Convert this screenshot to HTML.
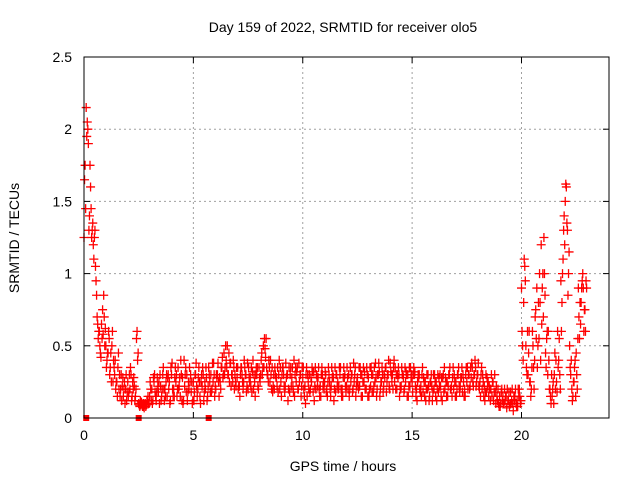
<!DOCTYPE html>
<html><head><meta charset="utf-8"><style>
body{margin:0;background:#fff}
svg text{font-family:"Liberation Sans",sans-serif;font-size:14px;fill:#000}
</style></head><body>
<svg id="chart" width="640" height="480" viewBox="0 0 640 480">
<rect width="640" height="480" fill="#fff"/>
<g id="grid"></g>
<g id="axes"></g>
<g id="marks"></g>
<rect x="84" y="57" width="525" height="361" fill="none" stroke="#000" stroke-width="1"/>
<text x="343" y="32" text-anchor="middle">Day 159 of 2022, SRMTID for receiver olo5</text>
<text x="343" y="471" text-anchor="middle">GPS time / hours</text>
<text x="19" y="238" text-anchor="middle" transform="rotate(-90 19 238)">SRMTID / TECUs</text>
</svg>
<script>
const xTicks=[0,5,10,15,20];
const yTicks=[0,0.5,1,1.5,2,2.5];
const yTickLabels=["0","0.5","1","1.5","2","2.5"];
const seriesA=[
1.25,2.15,1.9,1.6,1.35,1.3,0.7,0.6,0.65,0.85,
0.5,0.45,0.35,0.6,0.3,0.25,0.2,0.3,0.15,0.2,
0.25,0.2,0.15,0.22,0.55,0.1,0.09,0.08,0.1,0.12,
0.15,0.2,0.25,0.12,0.18,0.22,0.3,0.2,0.15,0.25,
0.3,0.2,0.25,0.35,0.15,0.28,0.22,0.3,0.2,0.18,
0.25,0.3,0.2,0.15,0.22,0.18,0.28,0.35,0.3,0.25,
0.22,0.3,0.28,0.35,0.45,0.4,0.3,0.38,0.25,0.3,
0.28,0.22,0.35,0.25,0.3,0.2,0.28,0.32,0.25,0.3,
0.35,0.4,0.5,0.42,0.3,0.25,0.35,0.2,0.28,0.3,
0.25,0.35,0.22,0.3,0.18,0.28,0.4,0.25,0.2,0.3,
0.28,0.22,0.15,0.3,0.25,0.32,0.2,0.28,0.22,0.3,
0.25,0.2,0.3,0.22,0.28,0.18,0.25,0.3,0.2,0.28,
0.22,0.3,0.25,0.2,0.35,0.28,0.22,0.3,0.25,0.2,
0.28,0.22,0.3,0.25,0.2,0.32,0.25,0.22,0.35,0.3,
0.38,0.3,0.25,0.2,0.3,0.22,0.28,0.25,0.3,0.22,
0.25,0.3,0.2,0.28,0.22,0.18,0.25,0.2,0.15,0.22,
0.2,0.25,0.18,0.22,0.28,0.2,0.25,0.3,0.22,0.2,
0.25,0.3,0.22,0.18,0.2,0.25,0.3,0.28,0.22,0.35,
0.3,0.25,0.2,0.22,0.18,0.15,0.2,0.25,0.18,0.12,
0.15,0.2,0.1,0.15,0.12,0.18,0.1,0.15,0.12,0.2,
0.9,0.8,0.5,0.3,0.25,0.6,0.4,0.9,0.55,1.2,
0.7,0.45,0.3,0.2,0.15,0.3,0.25,0.4,0.95,1.1,
1.5,1.3,0.5,0.2,0.25,0.45,0.9,0.65,1.0,0.75];
const seriesB=[
1.75,2.05,1.4,1.25,1.1,0.95,0.55,0.45,0.75,0.5,
0.4,0.55,0.25,0.4,0.2,0.35,0.15,0.22,0.25,0.12,
0.18,0.3,0.2,0.15,0.4,0.08,0.1,0.07,0.09,0.1,
0.2,0.12,0.18,0.28,0.1,0.15,0.2,0.25,0.3,0.12,
0.2,0.28,0.15,0.22,0.3,0.12,0.35,0.18,0.25,0.1,
0.18,0.22,0.35,0.25,0.3,0.2,0.15,0.25,0.2,0.3,
0.3,0.25,0.2,0.28,0.35,0.5,0.25,0.3,0.35,0.22,
0.2,0.3,0.25,0.35,0.22,0.28,0.35,0.2,0.3,0.22,
0.25,0.3,0.55,0.35,0.4,0.3,0.22,0.3,0.35,0.2,
0.3,0.22,0.28,0.2,0.35,0.22,0.3,0.35,0.25,0.22,
0.2,0.3,0.25,0.2,0.32,0.22,0.28,0.2,0.3,0.25,
0.3,0.25,0.2,0.28,0.2,0.3,0.22,0.2,0.28,0.22,
0.28,0.2,0.3,0.25,0.22,0.2,0.3,0.25,0.2,0.3,
0.2,0.3,0.22,0.28,0.3,0.2,0.3,0.28,0.25,0.22,
0.3,0.35,0.2,0.28,0.22,0.3,0.2,0.3,0.22,0.28,
0.3,0.22,0.25,0.2,0.3,0.25,0.2,0.22,0.25,0.18,
0.25,0.2,0.22,0.28,0.18,0.25,0.22,0.2,0.28,0.25,
0.2,0.22,0.28,0.25,0.3,0.2,0.22,0.35,0.3,0.25,
0.22,0.3,0.25,0.18,0.22,0.2,0.15,0.18,0.22,0.1,
0.1,0.15,0.12,0.2,0.08,0.12,0.15,0.1,0.2,0.1,
0.5,1.05,0.3,0.6,0.2,0.35,0.75,0.5,0.8,0.9,
1.0,0.55,0.4,0.1,0.25,0.2,0.6,0.3,0.8,1.4,
1.6,1.0,0.3,0.15,0.4,0.2,0.55,0.9,0.6,0.95];
const seriesC=[
1.65,1.95,1.3,1.45,1.2,1.05,0.65,0.5,0.55,0.7,
0.35,0.6,0.45,0.25,0.4,0.15,0.3,0.12,0.2,0.3,
0.15,0.35,0.25,0.12,0.6,0.09,0.11,0.1,0.08,0.15,
0.25,0.1,0.3,0.18,0.25,0.12,0.35,0.15,0.28,0.1,
0.38,0.15,0.3,0.2,0.4,0.1,0.3,0.12,0.35,0.25,
0.12,0.38,0.28,0.1,0.35,0.25,0.12,0.3,0.18,0.38,
0.2,0.38,0.25,0.42,0.3,0.35,0.45,0.22,0.4,0.25,
0.35,0.15,0.3,0.4,0.18,0.35,0.22,0.4,0.15,0.35,
0.28,0.45,0.35,0.55,0.25,0.4,0.18,0.35,0.22,0.4,
0.15,0.3,0.38,0.12,0.3,0.35,0.15,0.32,0.38,0.15,
0.35,0.1,0.3,0.18,0.35,0.12,0.3,0.35,0.15,0.22,
0.32,0.15,0.25,0.35,0.12,0.3,0.2,0.35,0.15,0.3,
0.35,0.15,0.3,0.38,0.15,0.22,0.35,0.15,0.32,0.35,
0.15,0.35,0.18,0.38,0.3,0.15,0.35,0.3,0.18,0.4,
0.32,0.2,0.35,0.3,0.15,0.35,0.18,0.32,0.15,0.35,
0.18,0.32,0.12,0.3,0.15,0.28,0.12,0.3,0.25,0.12,
0.3,0.12,0.28,0.15,0.3,0.28,0.15,0.35,0.15,0.3,
0.15,0.35,0.28,0.3,0.15,0.35,0.2,0.38,0.3,0.22,
0.38,0.15,0.3,0.12,0.28,0.22,0.3,0.12,0.1,0.2,
0.08,0.12,0.2,0.07,0.18,0.1,0.05,0.2,0.08,0.15,
0.6,1.1,0.35,0.45,0.15,0.5,0.7,0.35,1.0,0.65,
1.25,0.35,0.6,0.15,0.2,0.45,0.18,0.55,0.6,1.3,
1.62,0.85,0.35,0.12,0.35,0.3,0.7,0.8,0.9,0.6];
const seriesD=[
1.45,2.0,1.75,1.3,1.25,0.85,0.6,0.42,0.58,0.62,
0.45,0.3,0.5,0.35,0.25,0.45,0.2,0.28,0.1,0.18,
0.3,0.12,0.28,0.2,0.45,0.12,0.08,0.09,0.12,0.1,
0.12,0.28,0.15,0.22,0.3,0.2,0.12,0.3,0.2,0.35,
0.15,0.35,0.2,0.28,0.12,0.4,0.18,0.25,0.3,0.12,
0.3,0.15,0.25,0.3,0.12,0.35,0.22,0.18,0.38,0.15,
0.28,0.15,0.35,0.3,0.5,0.3,0.38,0.3,0.2,0.35,
0.22,0.35,0.2,0.3,0.38,0.25,0.18,0.3,0.35,0.2,
0.3,0.35,0.48,0.3,0.35,0.2,0.3,0.28,0.18,0.35,
0.35,0.18,0.3,0.35,0.22,0.18,0.35,0.2,0.3,0.35,
0.15,0.35,0.2,0.28,0.18,0.35,0.22,0.15,0.35,0.2,
0.18,0.35,0.15,0.3,0.35,0.22,0.35,0.15,0.35,0.18,
0.2,0.35,0.18,0.3,0.25,0.35,0.15,0.35,0.2,0.15,
0.35,0.18,0.35,0.15,0.38,0.25,0.18,0.35,0.3,0.2,
0.25,0.4,0.3,0.35,0.2,0.3,0.35,0.15,0.35,0.3,
0.35,0.15,0.3,0.18,0.35,0.15,0.3,0.12,0.3,0.3,
0.15,0.3,0.3,0.12,0.35,0.15,0.3,0.2,0.35,0.15,
0.3,0.18,0.35,0.15,0.35,0.3,0.35,0.25,0.4,0.3,
0.2,0.35,0.15,0.3,0.25,0.12,0.25,0.3,0.15,0.08,
0.18,0.1,0.15,0.12,0.1,0.2,0.12,0.08,0.15,0.12,
0.4,0.95,0.6,0.25,0.35,0.2,0.55,0.8,0.4,1.0,
0.85,0.6,0.2,0.3,0.1,0.4,0.35,0.2,1.0,1.2,
1.35,1.15,0.4,0.25,0.15,0.55,0.8,0.95,0.75,0.9];
const zeroTimes=[0.1,2.5,5.7];
const NS="http://www.w3.org/2000/svg";
const X0=84,X1=609,Y0=418,Y1=57,XMAX=24,YMAX=2.5;
function xs(v){return X0+(X1-X0)*v/XMAX;}
function ys(v){return Y0-(Y0-Y1)*v/YMAX;}
function mk(tag,attrs,parent){const e=document.createElementNS(NS,tag);for(const k in attrs)e.setAttribute(k,attrs[k]);parent.appendChild(e);return e;}
const grid=document.getElementById('grid'),axes=document.getElementById('axes'),marks=document.getElementById('marks');
xTicks.forEach(t=>{
  const x=xs(t);
  if(t>0){const g=mk('line',{x1:x,x2:x,y1:Y1,y2:Y0,stroke:'#a0a0a0','stroke-dasharray':'2,3'},grid);
  
  }
  mk('line',{x1:x,x2:x,y1:Y0,y2:Y0-6,stroke:'#000'},axes);
  mk('line',{x1:x,x2:x,y1:Y1,y2:Y1+6,stroke:'#000'},axes);
  const l=mk('text',{x:x,y:Y0+22,'text-anchor':'middle'},axes);l.textContent=String(t);
  
  
});
yTicks.forEach((t,i)=>{
  const y=ys(t);
  if(t>0&&t<YMAX){const g=mk('line',{x1:X0,x2:X1,y1:y,y2:y,stroke:'#a0a0a0','stroke-dasharray':'2,3'},grid);
  
  }
  mk('line',{x1:X0,x2:X0+6,y1:y,y2:y,stroke:'#000'},axes);
  mk('line',{x1:X1,x2:X1-6,y1:y,y2:y,stroke:'#000'},axes);
  const l=mk('text',{x:X0-12,y:y+5,'text-anchor':'end'},axes);l.textContent=yTickLabels[i];
  
  
});
function plus(t,v){
  const x=xs(t),y=ys(v);
  const p=mk('path',{d:`M${x-4.5},${y}H${x+4.5}M${x},${y-4.5}V${y+4.5}`,stroke:'#f00','stroke-width':1.3,fill:'none'},marks);
  
  
}
seriesA.forEach((v,i)=>plus(i*0.1,v));
seriesB.forEach((v,i)=>plus(i*0.1+0.05,v));
seriesC.forEach((v,i)=>plus(i*0.1+0.025,v));
seriesD.forEach((v,i)=>plus(i*0.1+0.075,v));
zeroTimes.forEach(t=>{
  const r=mk('rect',{x:xs(t)-3,y:ys(0)-3,width:6,height:6,fill:'#f00'},marks);
  
  
});
</script>
</body></html>
